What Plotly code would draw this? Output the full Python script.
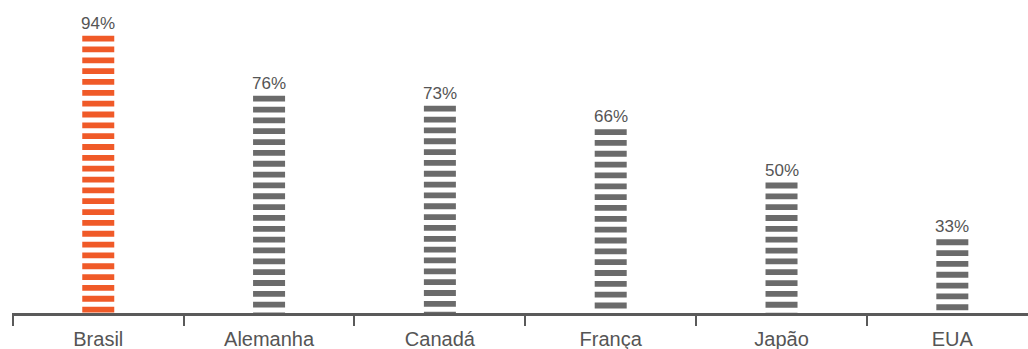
import plotly.graph_objects as go

# ---- data ----
countries = ["Brasil", "Alemanha", "Canadá", "França", "Japão", "EUA"]
values = [94, 76, 73, 66, 50, 33]
value_labels = ["94%", "76%", "73%", "66%", "50%", "33%"]
highlight = ["Brasil"]

# ---- style ----
ORANGE = "#F05A28"
GRAY = "#6B6B6B"
TEXT = "#555555"
AXIS = "#5A5A5A"
FONT = "Liberation Sans, Arial, sans-serif"

W, H = 1028, 349
M_T, M_B, M_L, M_R = 1, 36, 12, 0
Y_RANGE = [10.93, 104.4]
X_RANGE = [-0.505, 5.443]
STRIPE_PITCH_PX = 10.84
STRIPE_THICK_PX = 5.8
BAR_W_PX = 32
LINE_EW_FACTOR = 1.4  # plotly draws line-ew with half-length = 1.4 * size/2

plot_h = H - M_T - M_B
px_per_unit = plot_h / (Y_RANGE[1] - Y_RANGE[0])
pitch_u = STRIPE_PITCH_PX / px_per_unit
half_u = (STRIPE_THICK_PX / 2) / px_per_unit

fig = go.Figure()
for c, v in zip(countries, values):
    col = ORANGE if c in highlight else GRAY
    ys = []
    k = 0
    while True:
        y = v - half_u - k * pitch_u
        if y < Y_RANGE[0] - pitch_u:
            break
        ys.append(y)
        k += 1
    fig.add_trace(go.Scatter(
        x=[c] * len(ys), y=ys, mode="markers",
        marker=dict(symbol="line-ew", size=BAR_W_PX / LINE_EW_FACTOR, color=col,
                    line=dict(color=col, width=STRIPE_THICK_PX)),
        hoverinfo="skip", showlegend=False, cliponaxis=True,
    ))

for c, v, t in zip(countries, values, value_labels):
    fig.add_annotation(x=c, y=v, text=t, showarrow=False, yanchor="bottom",
                       yshift=1, font=dict(family=FONT, size=17, color=TEXT))

fig.update_layout(
    width=W, height=H,
    margin=dict(t=M_T, b=M_B, l=M_L, r=M_R, pad=0, autoexpand=False),
    paper_bgcolor="white", plot_bgcolor="white",
    showlegend=False,
    font=dict(family=FONT, size=17, color=TEXT),
    xaxis=dict(type="category", categoryorder="array", categoryarray=countries,
               range=X_RANGE, showgrid=False, zeroline=False, automargin=False,
               showline=True, linecolor=AXIS, linewidth=2.5,
               ticks="outside", tickson="boundaries", ticklen=10, tickwidth=2,
               tickcolor=AXIS, ticklabelstandoff=6,
               tickfont=dict(family=FONT, size=20, color=TEXT)),
    yaxis=dict(range=Y_RANGE, visible=False, showgrid=False, zeroline=False,
               automargin=False),
)

fig.write_html("out.html")
